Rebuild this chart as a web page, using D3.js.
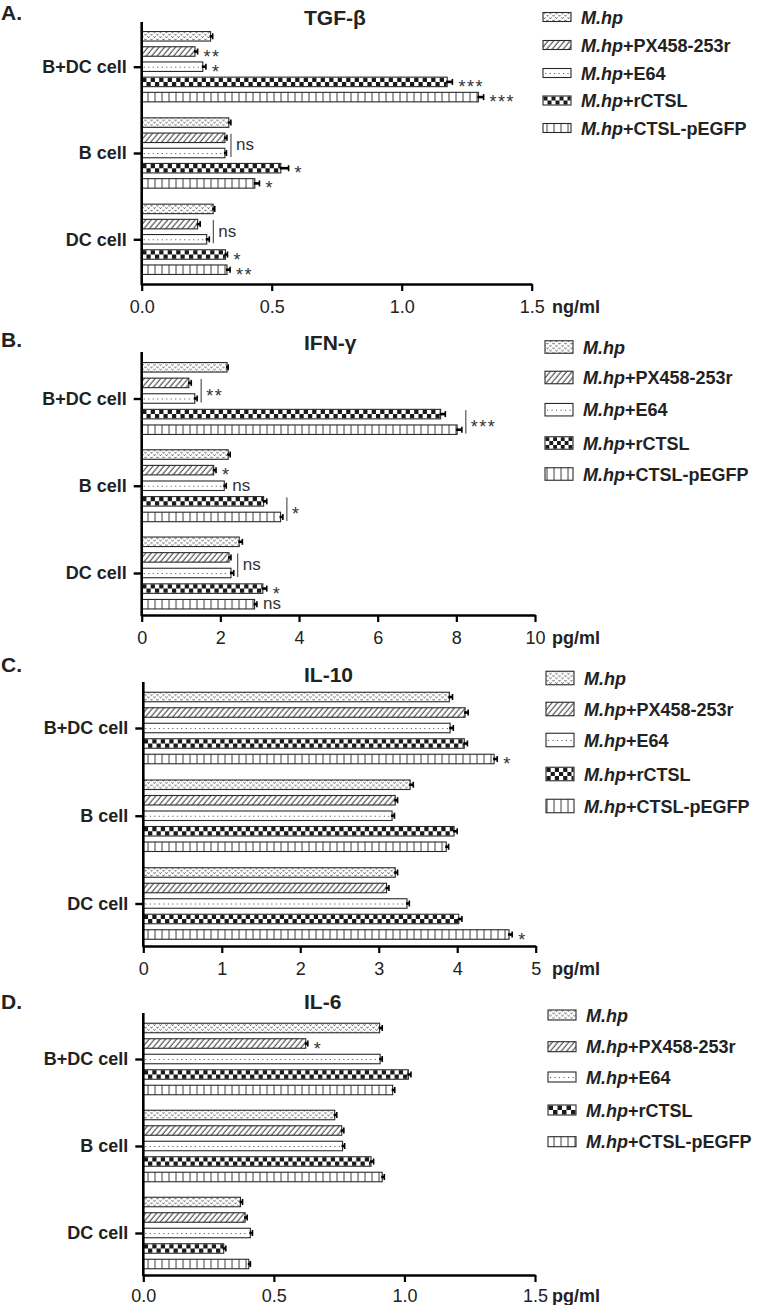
<!DOCTYPE html>
<html><head><meta charset="utf-8">
<script src="https://cdn.jsdelivr.net/npm/d3@7"></script>
<style>
body{margin:0;background:#fff}
svg{display:block}
text{font-family:"Liberation Sans",Arial,Helvetica,sans-serif}
</style>
</head><body>
<svg id="chart" width="757" height="1305"></svg>
<script>
// ---------- DATA ----------
const categories = ["B+DC cell", "B cell", "DC cell"];
const seriesPrefix = "M.hp";
const seriesSuffix = ["", "+PX458-253r", "+E64", "+rCTSL", "+CTSL-pEGFP"];
const seriesFill = ["vee", "hatch", "dots", "checker", "vlines"];

// rows = categories, columns = series
const tgfValues = [[0.265, 0.205, 0.235, 1.175, 1.295], [0.335, 0.32, 0.32, 0.535, 0.435], [0.275, 0.215, 0.25, 0.322, 0.328]];
const tgfErrors = [[0.008, 0.01, 0.012, 0.02, 0.02], [0.008, 0.008, 0.006, 0.03, 0.018], [0.006, 0.01, 0.01, 0.008, 0.012]];
const tgfTicks = [0, 0.5, 1.0, 1.5];
const tgfMarks = [
  {g: 0, b: 1, t: "**"}, {g: 0, b: 2, t: "*"}, {g: 0, b: 3, t: "***"}, {g: 0, b: 4, t: "***"},
  {g: 1, from: 1, to: 2, t: "ns"}, {g: 1, b: 3, t: "*"}, {g: 1, b: 4, t: "*"},
  {g: 2, from: 1, to: 2, t: "ns"}, {g: 2, b: 3, t: "*"}, {g: 2, b: 4, t: "**"}
];

const ifnValues = [[2.17, 1.2, 1.35, 7.6, 8.02], [2.2, 1.83, 2.1, 3.1, 3.53], [2.48, 2.22, 2.27, 3.08, 2.87]];
const ifnErrors = [[0.03, 0.06, 0.06, 0.12, 0.12], [0.05, 0.06, 0.05, 0.08, 0.06], [0.08, 0.05, 0.07, 0.1, 0.06]];
const ifnTicks = [0, 2, 4, 6, 8, 10];
const ifnMarks = [
  {g: 0, from: 1, to: 2, t: "**"}, {g: 0, from: 3, to: 4, t: "***"},
  {g: 1, b: 1, t: "*"}, {g: 1, b: 2, t: "ns"}, {g: 1, from: 3, to: 4, t: "*"},
  {g: 2, from: 1, to: 2, t: "ns"}, {g: 2, b: 3, t: "*"}, {g: 2, b: 4, t: "ns"}
];

const il10Values = [[3.9, 4.1, 3.91, 4.09, 4.47], [3.4, 3.21, 3.17, 3.96, 3.86], [3.21, 3.1, 3.36, 4.02, 4.66]];
const il10Errors = [[0.04, 0.04, 0.04, 0.04, 0.04], [0.04, 0.03, 0.03, 0.04, 0.03], [0.03, 0.03, 0.03, 0.04, 0.04]];
const il10Ticks = [0, 1, 2, 3, 4, 5];
const il10Marks = [{g: 0, b: 4, t: "*"}, {g: 2, b: 4, t: "*"}];

const il6Values = [[0.905, 0.622, 0.907, 1.015, 0.955], [0.733, 0.76, 0.763, 0.872, 0.915], [0.372, 0.39, 0.41, 0.308, 0.404]];
const il6Errors = [[0.01, 0.008, 0.008, 0.01, 0.008], [0.008, 0.008, 0.008, 0.01, 0.008], [0.008, 0.008, 0.008, 0.008, 0.006]];
const il6Ticks = [0, 0.5, 1.0, 1.5];
const il6Marks = [{g: 0, b: 1, t: "*"}];

// ---------- LAYOUT ----------
const panels = [
  {letter: "A.", title: "TGF-β", unit: "ng/ml", values: tgfValues, errors: tgfErrors, ticks: tgfTicks, marks: tgfMarks, fmt: ".1f",
   top: 22, bottom: 284, g0: 44.7, g2: 217.3, x0: 141.7, x1: 531.7, step: 15.2, tickY: 29,
   letterY: 20, titleY: 24.5, legendX: 543, legendY: [17, 45, 73, 100.5, 128], swH: 9},
  {letter: "B.", title: "IFN-γ", unit: "pg/ml", values: ifnValues, errors: ifnErrors, ticks: ifnTicks, marks: ifnMarks, fmt: "d",
   top: 352, bottom: 615, g0: 46.5, g2: 221, x0: 141.7, x1: 535, step: 15.6, tickY: 29,
   letterY: 347, titleY: 350, legendX: 545, legendY: [347, 377.5, 409.7, 443, 474], swH: 12.5},
  {letter: "C.", title: "IL-10", unit: "pg/ml", values: il10Values, errors: il10Errors, ticks: il10Ticks, marks: il10Marks, fmt: "d",
   top: 682, bottom: 946, g0: 46, g2: 221.5, x0: 143.3, x1: 535.7, step: 15.5, tickY: 29,
   letterY: 672, titleY: 682, legendX: 546, legendY: [678, 709, 740, 774, 806], swH: 13.5},
  {letter: "D.", title: "IL-6", unit: "pg/ml", values: il6Values, errors: il6Errors, ticks: il6Ticks, marks: il6Marks, fmt: ".1f",
   top: 1013, bottom: 1275, g0: 46, g2: 220, x0: 143.3, x1: 535, step: 15.5, tickY: 27,
   letterY: 1009, titleY: 1009, legendX: 548, legendY: [1015, 1046.7, 1077, 1110, 1141.7], swH: 10}
];

const svg = d3.select("#chart");
const defs = svg.append("defs");

// patterns
const pv = defs.append("pattern").attr("id", "vee").attr("patternUnits", "userSpaceOnUse").attr("width", 6).attr("height", 4.75);
pv.append("rect").attr("width", 6).attr("height", 4.75).attr("fill", "#fff");
pv.append("path").attr("d", "M0.5,0.8 L1.5,2.1 L2.5,0.8 M3.5,3.2 L4.5,4.5 L5.5,3.2")
  .attr("stroke", "#444").attr("stroke-width", 0.9).attr("fill", "none");

const ph = defs.append("pattern").attr("id", "hatch").attr("patternUnits", "userSpaceOnUse")
  .attr("width", 4.2).attr("height", 10).attr("patternTransform", "rotate(40)");
ph.append("rect").attr("width", 4.2).attr("height", 10).attr("fill", "#fff");
ph.append("line").attr("x1", 1).attr("x2", 1).attr("y1", -1).attr("y2", 11).attr("stroke", "#333").attr("stroke-width", 1);

const pl = defs.append("pattern").attr("id", "vlines").attr("patternUnits", "userSpaceOnUse")
  .attr("x", 0.5).attr("width", 7).attr("height", 10);
pl.append("rect").attr("width", 7).attr("height", 10).attr("fill", "#fff");
pl.append("line").attr("x1", 0.5).attr("x2", 0.5).attr("y1", 0).attr("y2", 10).attr("stroke", "#444").attr("stroke-width", 1.1);

function paint(sel, x, y, w, h, kind) {
  const base = (kind === "vee" || kind === "hatch" || kind === "vlines") ? `url(#${kind})` : "#fff";
  sel.append("rect").attr("x", x).attr("y", y).attr("width", Math.max(0, w)).attr("height", h).attr("fill", base);
  if (kind === "dots") {
    sel.append("line").attr("x1", x + 2).attr("x2", x + w - 1.5).attr("y1", y + h / 2 + 0.5).attr("y2", y + h / 2 + 0.5)
      .attr("stroke", "#555").attr("stroke-width", 1.1).attr("stroke-dasharray", "1.1 3.4");
  }
  if (kind === "checker") {
    const rows = Math.max(2, Math.round(h / 4.6));
    const rh = (h - 1) / rows;
    for (let r = 0; r < rows; r++) {
      sel.append("line").attr("x1", x + 0.5).attr("x2", x + w - 0.5)
        .attr("y1", y + 0.5 + rh * (r + 0.5)).attr("y2", y + 0.5 + rh * (r + 0.5))
        .attr("stroke", "#1a1a1a").attr("stroke-width", rh)
        .attr("stroke-dasharray", `${rh} ${rh}`).attr("stroke-dashoffset", r % 2 ? rh : 0);
    }
  }
  sel.append("rect").attr("x", x).attr("y", y).attr("width", Math.max(0, w)).attr("height", h)
    .attr("fill", "none").attr("stroke", "#2a2a2a").attr("stroke-width", 1.1);
}

panels.forEach(p => {
  const g = svg.append("g");
  const max = p.ticks[p.ticks.length - 1];
  const x = d3.scaleLinear().domain([0, max]).range([p.x0, p.x1]);
  const y = d3.scalePoint().domain(categories).range([p.top + p.g0, p.top + p.g2]);
  const inner = d3.scalePoint().domain(d3.range(seriesSuffix.length)).range([-2 * p.step, 2 * p.step]);
  const bh = 9.5;
  const cy = (gi, si) => y(categories[gi]) + inner(si);

  // bars
  categories.forEach((c, gi) => {
    p.values[gi].forEach((v, si) => {
      const bg = g.append("g");
      paint(bg, x(0), cy(gi, si) - bh / 2, x(v) - x(0), bh, seriesFill[si]);
      const e = p.errors[gi][si];
      bg.append("line").attr("x1", x(v) - 1).attr("x2", x(v + e)).attr("y1", cy(gi, si)).attr("y2", cy(gi, si))
        .attr("stroke", "#000").attr("stroke-width", 2.6);
      bg.append("line").attr("x1", x(v + e)).attr("x2", x(v + e)).attr("y1", cy(gi, si) - 3).attr("y2", cy(gi, si) + 3)
        .attr("stroke", "#000").attr("stroke-width", 1.6);
    });
  });

  // significance marks
  p.marks.forEach(m => {
    const vals = p.values[m.g], errs = p.errors[m.g];
    const isNs = m.t === "ns";
    const txt = g.append("text").text(m.t).attr("font-size", isNs ? 17 : 18).attr("fill", "#333")
      .attr("letter-spacing", isNs ? 0 : 1.5);
    if (m.b !== undefined) {
      txt.attr("x", x(vals[m.b] + errs[m.b]) + 6).attr("y", cy(m.g, m.b) + (isNs ? 5 : 11));
    } else {
      const idx = d3.range(m.from, m.to + 1);
      const bx = d3.max(idx, i => x(vals[i] + errs[i])) + 4;
      const ya = cy(m.g, m.from) - 4, yb = cy(m.g, m.to) + 4;
      g.append("line").attr("x1", bx).attr("x2", bx).attr("y1", ya).attr("y2", yb)
        .attr("stroke", "#333").attr("stroke-width", 1);
      const mid = (ya + yb) / 2;
      txt.attr("x", bx + 5).attr("y", mid + (isNs ? 5 : 11));
    }
  });

  // x axis
  const xa = g.append("g").attr("transform", `translate(0,${p.bottom})`)
    .call(d3.axisBottom(x).tickValues(p.ticks).tickFormat(d3.format(p.fmt)).tickSize(7).tickSizeOuter(0));
  xa.select(".domain").attr("stroke", "#000").attr("stroke-width", 2.6);
  xa.selectAll(".tick line").attr("stroke", "#000").attr("stroke-width", 2.2);
  xa.selectAll(".tick text").attr("y", p.tickY - 13).attr("font-size", 18).attr("fill", "#222")
    .attr("font-family", "'Liberation Sans',Arial,sans-serif");

  // y axis
  const ya = g.append("g").attr("transform", `translate(${p.x0},0)`)
    .call(d3.axisLeft(y).tickSize(8).tickSizeOuter(0));
  ya.select(".domain").remove();
  ya.append("line").attr("x1", 0).attr("x2", 0).attr("y1", p.top).attr("y2", p.bottom + 1.3)
    .attr("stroke", "#000").attr("stroke-width", 2.6);
  ya.selectAll(".tick line").attr("stroke", "#000").attr("stroke-width", 2.4);
  ya.selectAll(".tick text").attr("x", -15).attr("font-size", 18).attr("font-weight", "bold").attr("fill", "#222")
    .attr("font-family", "'Liberation Sans',Arial,sans-serif");

  // titles
  g.append("text").attr("x", 1).attr("y", p.letterY).text(p.letter)
    .attr("font-size", 21).attr("font-weight", "bold").attr("fill", "#222");
  g.append("text").attr("x", 304).attr("y", p.titleY).text(p.title)
    .attr("font-size", 21).attr("font-weight", "bold").attr("fill", "#222");
  g.append("text").attr("x", 552).attr("y", p.bottom + p.tickY).text(p.unit)
    .attr("font-size", 18).attr("font-weight", "bold").attr("fill", "#222");

  // legend
  seriesSuffix.forEach((s, i) => {
    const ly = p.legendY[i];
    const lg = g.append("g");
    paint(lg, p.legendX, ly - p.swH / 2, 28, p.swH, seriesFill[i]);
    const t = lg.append("text").attr("x", p.legendX + 38).attr("y", ly + 6.5)
      .attr("font-size", 18).attr("font-weight", "bold").attr("fill", "#222");
    t.append("tspan").attr("font-style", "italic").text(seriesPrefix);
    if (s) t.append("tspan").text(s);
  });
});
</script>
</body></html>
